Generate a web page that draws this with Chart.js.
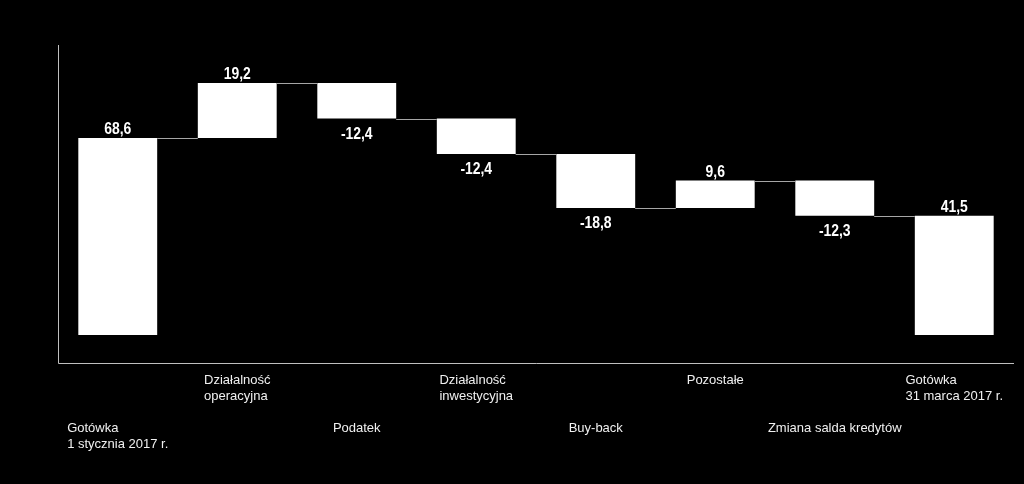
<!DOCTYPE html>
<html>
<head>
<meta charset="utf-8">
<script src="https://cdn.jsdelivr.net/npm/chart.js@4/dist/chart.umd.min.js"></script>
<style>
  html, body { margin: 0; padding: 0; background: #000; }
  canvas { display: block; }
</style>
</head>
<body>
<canvas id="cashChart" width="1024" height="484"></canvas>
<script>
// category labels (multi-line), change per step, and text shown on each bar
const categories = [
  ["Gotówka", "1 stycznia 2017 r."],
  ["Działalność", "operacyjna"],
  ["Podatek"],
  ["Działalność", "inwestycyjna"],
  ["Buy-back"],
  ["Pozostałe"],
  ["Zmiana salda kredytów"],
  ["Gotówka", "31 marca 2017 r."]
];
const changes = [68.6, 19.2, -12.4, -12.4, -18.8, 9.6, -12.3, 41.5];
const isTotal = [true, false, false, false, false, false, false, true];
const valueLabels = ["68,6", "19,2", "-12,4", "-12,4", "-18,8", "9,6", "-12,3", "41,5"];

// floating bars [start, end]
let running = 0;
const floatData = changes.map((v, i) => {
  if (isTotal[i]) {
    running = v;
    return [0, v];
  }
  const start = running;
  running += v;
  return [start, running];
});

const waterfallPlugin = {
  id: "waterfall",
  afterDatasetsDraw(chart) {
    const ctx = chart.ctx;
    const area = chart.chartArea;
    const y = chart.scales.y;
    const bars = chart.getDatasetMeta(0).data;

    ctx.save();
    // axis lines
    ctx.strokeStyle = "#bfbfbf";
    ctx.lineWidth = 1;
    ctx.beginPath();
    ctx.moveTo(area.left + 0.5, area.top);
    ctx.lineTo(area.left + 0.5, area.bottom + 0.5);
    ctx.lineTo(area.right, area.bottom + 0.5);
    ctx.stroke();

    // connectors between bars
    ctx.strokeStyle = "#a6a6a6";
    for (let i = 0; i < bars.length - 1; i++) {
      const level = floatData[i][1];
      const py = Math.round(y.getPixelForValue(level)) + 0.5;
      ctx.beginPath();
      ctx.moveTo(bars[i].x + bars[i].width / 2, py);
      ctx.lineTo(bars[i + 1].x - bars[i + 1].width / 2, py);
      ctx.stroke();
    }

    // value labels (condensed bold look)
    ctx.fillStyle = "#ffffff";
    ctx.font = "bold 16px 'Liberation Sans Narrow', 'Arial Narrow', 'Liberation Sans', Arial, sans-serif";
    ctx.textAlign = "center";
    ctx.textBaseline = "alphabetic";
    bars.forEach((bar, i) => {
      const top = y.getPixelForValue(Math.max(...floatData[i]));
      const bottom = y.getPixelForValue(Math.min(...floatData[i]));
      const ty = changes[i] >= 0 ? top - 4 : bottom + 20;
      ctx.save();
      ctx.translate(bar.x, ty);
      ctx.scale(0.87, 1);
      ctx.fillText(valueLabels[i], 0, 0);
      ctx.restore();
    });

    // category labels: staggered rows, lines left aligned inside a centred block
    ctx.font = "13px 'Liberation Sans', Arial, sans-serif";
    ctx.fillStyle = "#f0f0f0";
    ctx.textAlign = "left";
    bars.forEach((bar, i) => {
      const lines = chart.data.labels[i];
      const w = Math.max(...lines.map(l => ctx.measureText(l).width));
      const x0 = bar.x - w / 2;
      const base = i % 2 === 1 ? 384 : 432;
      lines.forEach((l, k) => ctx.fillText(l, x0, base + k * 16));
    });
    ctx.restore();
  }
};

const ctx = document.getElementById("cashChart").getContext("2d");
new Chart(ctx, {
  type: "bar",
  data: {
    labels: categories,
    datasets: [
      {
        data: floatData,
        backgroundColor: "#ffffff",
        borderWidth: 0,
        barPercentage: 0.66,
        categoryPercentage: 1
      }
    ]
  },
  options: {
    responsive: false,
    devicePixelRatio: 1,
    animation: false,
    layout: {
      padding: { left: 58, right: 10, top: 45, bottom: 121 }
    },
    plugins: {
      legend: { display: false },
      tooltip: { enabled: false },
      title: { display: false }
    },
    scales: {
      x: { display: false, offset: true },
      y: { display: false, min: -9.75, max: 101 }
    }
  },
  plugins: [waterfallPlugin]
});
</script>
</body>
</html>
